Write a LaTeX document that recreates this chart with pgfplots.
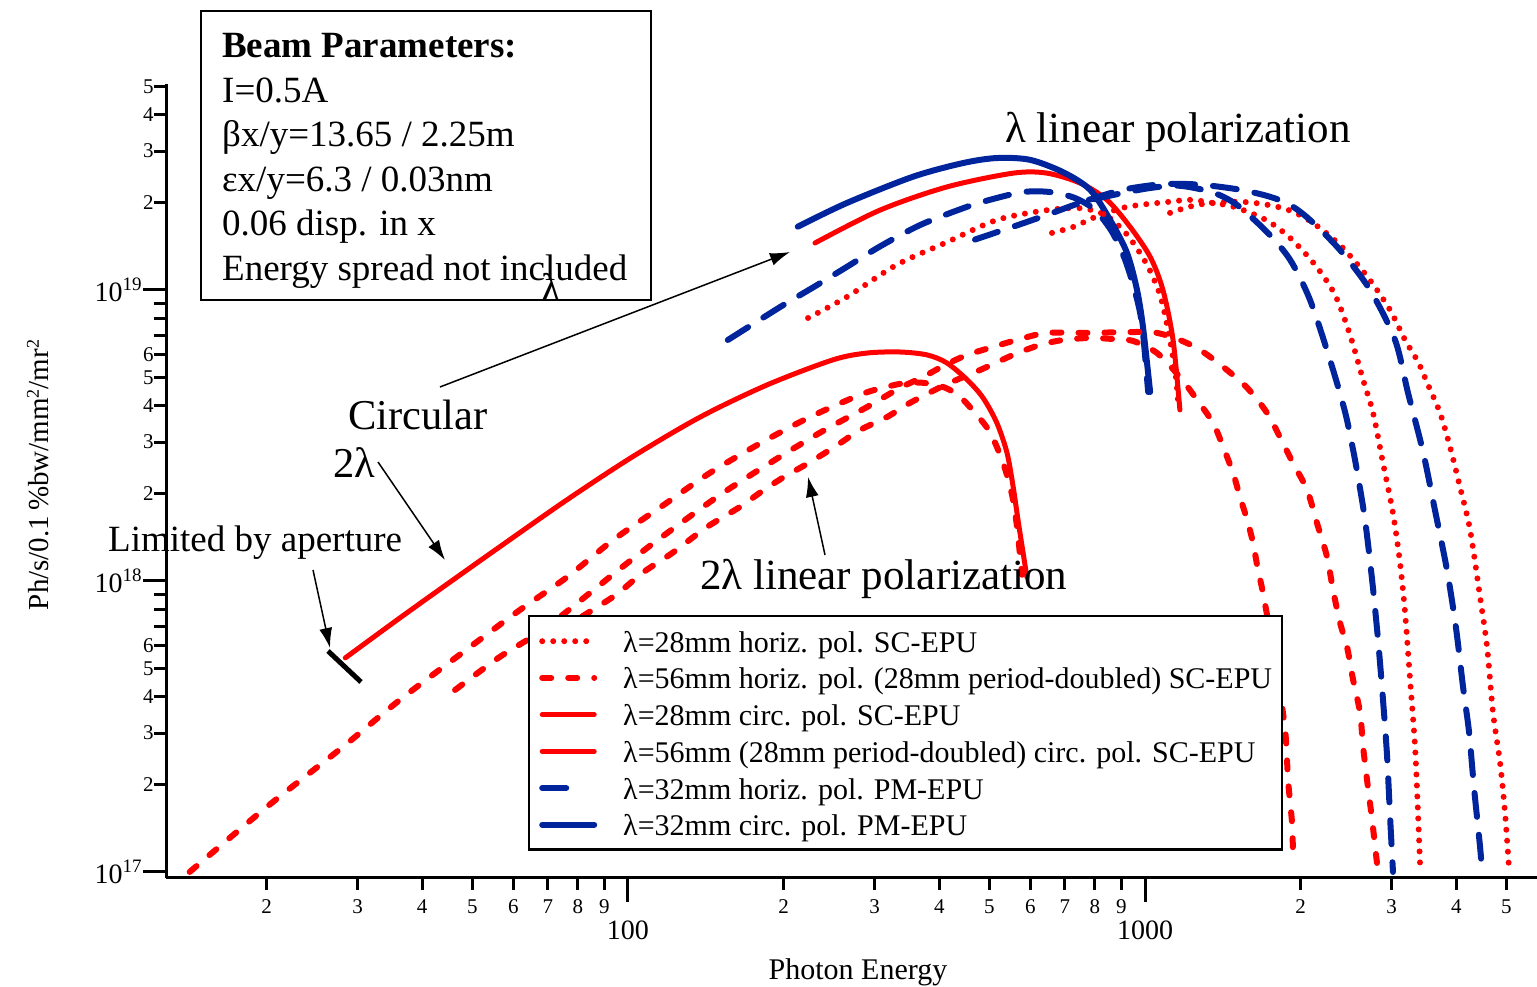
\documentclass[border=0pt]{standalone}
\usepackage{fontspec}
\setmainfont{Liberation Serif}
\usepackage{pgfplots}
\pgfplotsset{compat=1.18}
\usetikzlibrary{arrows.meta}
\definecolor{bluec}{RGB}{0,36,156}
\newcommand{\fs}[1]{\fontsize{#1}{#1}\selectfont}
\pgfplotsset{
 rdot/.style={color=red, line width=6pt, line cap=round, dash pattern=on 0pt off 11pt, smooth, tension=0.5, mark=none},
 rdash/.style={color=red, line width=6pt, line cap=round, dash pattern=on 9pt off 17pt, smooth, tension=0.5, mark=none},
 rsol/.style={color=red, line width=5pt, line cap=round, smooth, tension=0.5, mark=none},
 bdash/.style={color=bluec, line width=6pt, line cap=round, dash pattern=on 24pt off 18pt, smooth, tension=0.5, mark=none},
 bsol/.style={color=bluec, line width=6pt, line cap=round, smooth, tension=0.5, mark=none},
}
\begin{document}
\begin{tikzpicture}
\useasboundingbox (0pt,0pt) rectangle (1537pt,987pt);
\begin{axis}[
  xmode=log, ymode=log,
  scale only axis, width=1371pt, height=794pt,
  at={(166pt,109pt)}, anchor=south west,
  xmin=12.78, xmax=5731, ymin=9.537e16, ymax=5.105e19,
  axis x line*=bottom, axis y line*=left,
  axis line style={line width=3pt,-},
  tick align=outside, xtick pos=bottom, ytick pos=left,
  major tick length=12pt, tick style={line width=3pt, black},
  minor x tick num=0, minor y tick num=0,
  xtick={20,30,40,50,60,70,80,90,200,300,400,500,600,700,800,900,2000,3000,4000,5000},
  xticklabels={2,3,4,5,6,7,8,9,2,3,4,5,6,7,8,9,2,3,4,5},
  extra x ticks={100,1000}, extra x tick labels={100,1000},
  extra x tick style={major tick length=24pt, xticklabel style={font=\fs{28}, yshift=-9pt}},
  ytick={2e17,3e17,4e17,5e17,6e17,7e17,8e17,9e17,2e18,3e18,4e18,5e18,6e18,7e18,8e18,9e18,2e19,3e19,4e19,5e19},
  yticklabels={2,3,4,5,6,,,,2,3,4,5,6,,,,2,3,4,5},
  extra y ticks={1e17,1e18,1e19},
  extra y tick labels={10\raisebox{11pt}{\fs{19}17},10\raisebox{11pt}{\fs{19}18},10\raisebox{11pt}{\fs{19}19}},
  extra y tick style={major tick length=23pt, yticklabel style={font=\fs{28}, xshift=-1pt}},
  xticklabel style={font=\fs{21}, yshift=-6pt},
  yticklabel style={font=\fs{21}, xshift=3pt},
  legend image code/.code={\draw[#1] (0pt,0pt) -- (52pt,0pt);},
  legend cell align=left,
  legend style={at={(0.2640,0.3312)}, anchor=north west, draw=black, line width=2.5pt, fill=white,
    font=\fs{30}, inner xsep=10pt, inner ysep=10pt, row sep=6.7pt,
    nodes={inner sep=0pt, text height=26pt, text depth=4pt},
    /tikz/every odd column/.append style={column sep=26pt}},
]
% legend series
\addplot[rdot] coordinates {(223,8.01e18) (265,9.46e18) (331,1.22e19) (414,1.46e19) (517,1.74e19) (646,1.88e19) (749,1.91e19) (837,1.81e19) (923,1.55e19) (1009,1.22e19) (1069,9.61e18) (1108,7.29e18) (1143,5.31e18) (1158,4.19e18)};
\addlegendentry{λ=28mm horiz. pol. SC-EPU}
\addplot[rdash] coordinates {(14.2,1.00e17) (20.0,1.67e17) (28.1,2.69e17) (36.2,3.90e17) (49.5,5.93e17) (61.8,7.95e17) (76.2,1.03e18) (93.5,1.38e18) (117,1.82e18) (144,2.35e18) (182,3.00e18) (225,3.66e18) (281,4.36e18) (311,4.61e18) (344,4.79e18) (375,4.79e18) (411,4.61e18) (439,4.29e18) (469,3.78e18) (501,3.25e18) (531,2.56e18) (553,1.98e18) (566,1.52e18) (573,1.23e18) (578,1.05e18)};
\addlegendentry{λ=56mm horiz. pol. (28mm period-doubled) SC-EPU}
\addplot[rsol] coordinates {(230,1.45e19) (307,1.88e19) (414,2.26e19) (556,2.52e19) (646,2.52e19) (749,2.33e19) (844,2.04e19) (935,1.65e19) (1023,1.30e19) (1083,1.00e19) (1133,6.73e18) (1168,3.87e18)};
\addlegendentry{λ=28mm circ. pol. SC-EPU}
\addplot[rsol] coordinates {(28.4,5.44e17) (36.2,7.46e17) (45.3,9.92e17) (56.5,1.31e18) (76.2,1.90e18) (102,2.67e18) (138,3.66e18) (186,4.72e18) (249,5.75e18) (290,6.07e18) (336,6.12e18) (379,5.98e18) (414,5.61e18) (453,4.91e18) (486,4.26e18) (517,3.49e18) (541,2.75e18) (556,2.10e18) (568,1.62e18) (581,1.25e18) (591,1.03e18)};
\addlegendentry{λ=56mm (28mm period-doubled) circ. pol. SC-EPU}
\addplot[bdash, legend image code/.code={\draw[bluec,line width=6pt,line cap=round] (0pt,0pt) -- (25pt,0pt);}] coordinates {(156,6.73e18) (197,8.74e18) (228,1.02e19) (265,1.20e19) (307,1.41e19) (367,1.67e19) (445,1.91e19) (501,2.04e19) (581,2.17e19) (655,2.17e19) (732,2.07e19) (801,1.88e19) (864,1.58e19) (915,1.27e19) (957,9.84e18) (987,7.58e18) (1014,4.46e18)};
\addlegendentry{λ=32mm horiz. pol. PM-EPU}
\addplot[bsol] coordinates {(213,1.65e19) (265,1.99e19) (356,2.45e19) (445,2.73e19) (517,2.84e19) (599,2.80e19) (694,2.54e19) (783,2.21e19) (856,1.74e19) (923,1.34e19) (965,1.00e19) (991,7.46e18) (1023,4.46e18)};
\addlegendentry{λ=32mm circ. pol. PM-EPU}
% further harmonics
\addplot[rdot, forget plot] coordinates {(661,1.57e19) (729,1.65e19) (801,1.78e19) (923,1.93e19) (1118,2.01e19) (1227,2.04e19) (1354,1.99e19) (1487,1.93e19) (1714,1.74e19) (1908,1.51e19) (2132,1.22e19) (2331,9.61e18) (2492,7.00e18) (2641,4.91e18) (2761,3.78e18) (2886,2.54e18) (3017,1.71e18) (3114,1.15e18) (3184,7.76e17) (3256,4.57e17) (3329,2.69e17) (3373,1.59e17) (3403,1.07e17)};
\addplot[rdot, forget plot] coordinates {(1118,1.84e19) (1261,1.96e19) (1487,2.01e19) (1669,1.98e19) (1866,1.90e19) (2039,1.77e19) (2230,1.58e19) (2437,1.37e19) (2724,1.08e19) (2977,8.54e18) (3184,6.73e18) (3373,5.66e18) (3527,4.72e18) (3721,3.78e18) (3890,2.89e18) (4067,2.10e18) (4252,1.50e18) (4446,8.81e17) (4587,5.93e17) (4711,3.52e17) (4861,2.37e17) (4970,1.59e17) (5060,1.02e17)};
\addplot[rdash, forget plot] coordinates {(46.3,4.22e17) (56.5,5.48e17) (68.5,6.79e17) (84.4,9.09e17) (99.6,1.15e18) (119,1.46e18) (151,1.98e18) (188,2.54e18) (235,3.23e18) (290,3.96e18) (336,4.61e18) (372,5.02e18) (411,5.53e18) (453,5.98e18) (508,6.37e18) (573,6.78e18) (646,7.12e18) (772,7.12e18) (965,7.17e18) (1055,7.12e18) (1168,6.73e18) (1278,6.22e18) (1416,5.44e18) (1576,4.61e18) (1722,3.78e18) (1824,3.12e18) (1933,2.54e18) (2057,2.06e18) (2151,1.58e18) (2249,1.21e18) (2310,9.31e17) (2384,7.17e17) (2459,5.93e17) (2526,4.57e17) (2606,3.52e17) (2641,2.69e17) (2688,2.07e17) (2749,1.51e17) (2810,1.07e17)};
\addplot[rdash, forget plot] coordinates {(73.9,6.79e17) (93.5,8.81e17) (107,1.07e18) (122,1.25e18) (142,1.53e18) (165,1.80e18) (180,2.01e18) (199,2.26e18) (225,2.56e18) (254,2.93e18) (281,3.30e18) (317,3.66e18) (351,4.09e18) (411,4.72e18) (480,5.31e18) (556,5.98e18) (626,6.47e18) (694,6.73e18) (783,6.84e18) (868,6.78e18) (948,6.68e18) (1055,6.07e18) (1168,5.02e18) (1261,4.19e18) (1354,3.49e18) (1416,2.89e18) (1480,2.35e18) (1527,1.94e18) (1576,1.62e18) (1618,1.35e18) (1654,1.09e18) (1691,9.09e17) (1784,5.35e17) (1866,3.08e17) (1891,2.07e17) (1925,1.47e17) (1933,1.13e17)};
\addplot[bdash, forget plot] coordinates {(469,1.49e19) (556,1.65e19) (646,1.81e19) (749,1.99e19) (868,2.12e19) (1023,2.24e19) (1168,2.28e19) (1354,2.16e19) (1506,1.96e19) (1722,1.58e19) (1908,1.27e19) (2085,9.24e18) (2279,5.75e18) (2437,3.81e18) (2526,2.82e18) (2582,2.28e18) (2664,1.62e18) (2749,1.01e18) (2823,6.27e17) (2886,3.90e17) (2938,2.52e17) (2977,1.57e17) (3017,1.00e17)};
\addplot[bdash, forget plot] coordinates {(779,2.04e19) (907,2.21e19) (1083,2.31e19) (1278,2.30e19) (1527,2.21e19) (1745,2.09e19) (1908,1.96e19) (2085,1.74e19) (2384,1.37e19) (2724,1.00e19) (3045,6.73e18) (3226,4.43e18) (3449,2.78e18) (3638,1.75e18) (3838,1.09e18) (3995,6.90e17) (4122,4.32e17) (4233,3.03e17) (4329,1.94e17) (4446,1.22e17) (4486,1.00e17)};
\end{axis}
% axis labels
\node[anchor=base, font=\fs{30}] at (858pt,7pt) {Photon Energy};
\node[rotate=90, font=\fs{29}] at (38pt,512pt) {Ph/s/0.1\,\%bw/mm\raisebox{10pt}{\fs{18}2}/mr\raisebox{10pt}{\fs{18}2}};
% beam parameter box
\draw[line width=2pt] (201pt,976pt) rectangle (651pt,687pt);
\node[anchor=base west, inner sep=0pt, font=\fs{37}] at (222pt,929pt) {\textbf{Beam Parameters:}};
\node[anchor=base west, inner sep=0pt, font=\fs{37}] at (222pt,884pt) {I=0.5A};
\node[anchor=base west, inner sep=0pt, font=\fs{37}] at (222pt,840pt) {βx/y=13.65 / 2.25m};
\node[anchor=base west, inner sep=0pt, font=\fs{37}] at (222pt,795pt) {εx/y=6.3 / 0.03nm};
\node[anchor=base west, inner sep=0pt, font=\fs{37}] at (222pt,751pt) {0.06 disp. in x};
\node[anchor=base west, inner sep=0pt, font=\fs{37}] at (222pt,706pt) {Energy spread not included};
% annotations
\node[anchor=base west, inner sep=0pt, font=\fs{43}] at (1005pt,844pt) {λ linear polarization};
\node[anchor=base west, inner sep=0pt, font=\fs{42.5}] at (348pt,557pt) {Circular};
\node[anchor=base west, inner sep=0pt, font=\fs{42.5}] at (333pt,509pt) {2λ};
\node[anchor=base west, inner sep=0pt, font=\fs{37}] at (108pt,435pt) {Limited by aperture};
\node[anchor=base west, inner sep=0pt, font=\fs{43}] at (700pt,397pt) {2λ linear polarization};
\node[anchor=base west, inner sep=0pt, font=\fs{40}] at (541pt,685pt) {λ};
\draw[line width=1.5pt, -{Latex[length=20pt,width=13pt]}] (440pt,600pt) -- (790pt,735pt);
\draw[line width=1.5pt, -{Latex[length=20pt,width=13pt]}] (378pt,525pt) -- (445pt,427pt);
\draw[line width=1.5pt, -{Latex[length=20pt,width=13pt]}] (313pt,417pt) -- (330pt,339pt);
\draw[line width=1.5pt, -{Latex[length=20pt,width=13pt]}] (825pt,432pt) -- (808pt,510pt);
\draw[line width=5pt] (328pt,336pt) -- (361pt,305pt);
\end{tikzpicture}
\end{document}
